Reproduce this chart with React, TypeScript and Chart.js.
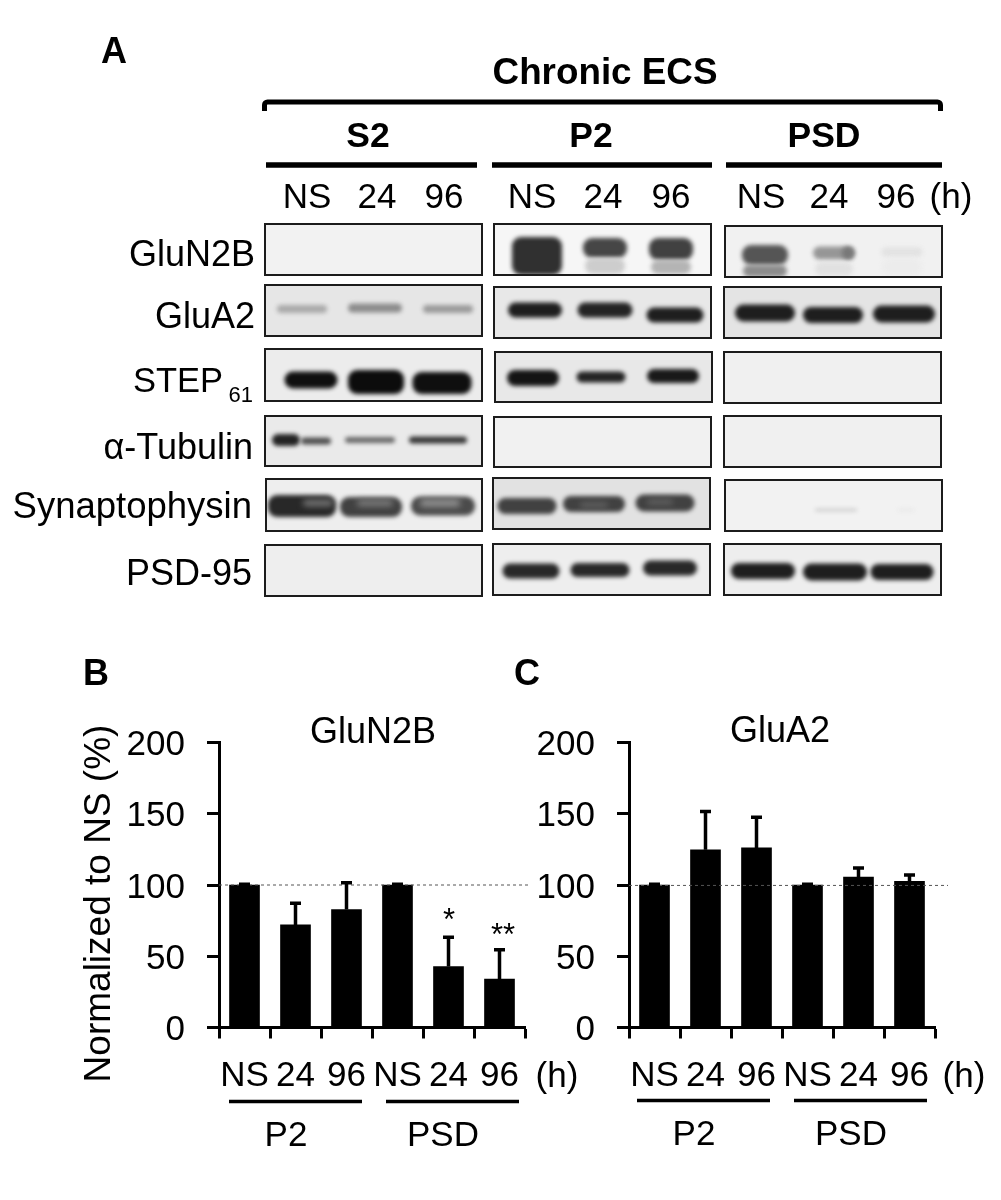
import React, { useEffect, useRef } from "react";
import { Chart, registerables } from "chart.js";

Chart.register(...registerables);

const FONT = '"Liberation Sans", Arial, sans-serif';

// ---- bar data ----
const timeLabels = ["NS", "24", "96", "NS", "24", "96"];
const gluN2BValues = [100, 72, 82.8, 100, 42.8, 34];
const gluN2BErrorTops = [100.5, 87.2, 101.5, 100.5, 63.4, 54.6];
const gluA2Values = [100, 124.7, 126, 100, 105.5, 102.6];
const gluA2ErrorTops = [100.6, 151.5, 147.6, 100.6, 112, 107];
const yTicks = [0, 50, 100, 150, 200];

// ---- blot panels: [x0, y0, x1, y1, background grey] in gel-sheet units ----
const blotPanels = [
  [265, 224, 482, 275, 242], [494, 224, 711, 275, 246], [725, 226, 942, 277, 241],
  [265, 285, 482, 336, 230], [494, 287, 711, 338, 232], [724, 287, 941, 338, 228],
  [265, 349, 482, 401, 236], [495, 352, 712, 402, 232], [724, 352, 941, 403, 240],
  [265, 416, 482, 466, 234], [494, 417, 711, 467, 241], [724, 416, 941, 467, 240],
  [266, 479, 482, 531, 238], [493, 478, 710, 529, 226], [725, 480, 942, 531, 242],
  [265, 545, 482, 596, 238], [493, 544, 710, 595, 238], [724, 544, 941, 595, 238],
];

// ---- blot bands: [centre x, centre y, width, height, grey] ----
const gluN2BBands = [
  [537, 256, 50, 38, 48], [605, 248, 44, 20, 70], [605, 266, 40, 16, 205], [671, 249, 44, 22, 65], [671, 267, 40, 14, 180],
  [765, 255, 46, 20, 85], [765, 271, 44, 12, 140], [834, 253, 42, 13, 150], [848, 253, 12, 13, 120], [834, 269, 38, 14, 225],
  [902, 252, 41, 9, 226], [902, 267, 40, 18, 236],
];
const gluA2Bands = [
  [302, 309, 50, 8, 170], [375, 308, 54, 9, 140], [448, 309, 50, 8, 155],
  [535, 310, 54, 15, 30], [605, 310, 55, 15, 35], [675, 315, 57, 15, 30],
  [765, 313, 60, 17, 30], [833, 315, 60, 16, 30], [904, 314, 62, 17, 30],
];
const step61Bands = [
  [311, 380, 53, 17, 15], [376, 382, 56, 24, 12], [442, 383, 59, 22, 15],
  [533, 378, 52, 16, 20], [601, 377, 49, 11, 35], [673, 376, 52, 14, 25],
];
const tubulinBands = [
  [286, 440, 28, 12, 35], [316, 441, 30, 7, 80], [370, 440, 50, 6, 105], [438, 440, 58, 7, 55],
];
const synaptophysinBands = [
  [302, 506, 68, 22, 40], [371, 507, 62, 20, 65], [443, 506, 64, 19, 75],
  [527, 506, 59, 16, 65], [594, 504, 62, 16, 65], [665, 503, 59, 17, 65],
  [836, 510, 42, 2, 190], [906, 510, 16, 1, 215],
];
const synaptophysinCores = [
  [318, 503, 30, 6, 125], [375, 503, 36, 6, 130], [440, 503, 40, 7, 150],
  [594, 505, 28, 4, 110], [660, 502, 26, 4, 110],
];
const psd95Bands = [
  [531, 571, 57, 15, 40], [600, 570, 59, 14, 40], [670, 568, 54, 15, 40],
  [763, 571, 64, 16, 30], [835, 572, 64, 17, 30], [902, 572, 63, 16, 30],
];
const allBands = [
  ...gluN2BBands, ...gluA2Bands, ...step61Bands, ...tubulinBands,
  ...synaptophysinBands, ...psd95Bands,
];

// ---- text: [text, x, baseline y, size, bold, align] ----
const figureTexts: [string, number, number, number, boolean, CanvasTextAlign][] = [
  ["A", 114, 62.5, 36, true, "center"],
  ["B", 96, 685, 36, true, "center"],
  ["C", 527, 685, 36, true, "center"],
  ["Chronic ECS", 605, 83.5, 36.8, true, "center"],
  ["S2", 368, 147, 35.5, true, "center"],
  ["P2", 591, 147, 35.5, true, "center"],
  ["PSD", 824, 147, 35.5, true, "center"],
  ["NS", 307, 208, 35, false, "center"], ["24", 377, 208, 35, false, "center"], ["96", 444, 208, 35, false, "center"],
  ["NS", 532, 208, 35, false, "center"], ["24", 603, 208, 35, false, "center"], ["96", 671, 208, 35, false, "center"],
  ["NS", 761, 208, 35, false, "center"], ["24", 829, 208, 35, false, "center"], ["96", 896, 208, 35, false, "center"],
  ["(h)", 951, 208, 35, false, "center"],
  ["GluN2B", 255, 266, 36, false, "right"],
  ["GluA2", 255, 328, 36, false, "right"],
  ["STEP", 223, 392, 34.5, false, "right"],
  ["61", 253, 402, 22, false, "right"],
  ["α-Tubulin", 253, 459, 36, false, "right"],
  ["Synaptophysin", 252, 518, 36.5, false, "right"],
  ["PSD-95", 252, 585, 36, false, "right"],
  ["GluN2B", 373, 743, 36, false, "center"],
  ["GluA2", 780, 742, 36, false, "center"],
  ["(h)", 557, 1087, 35, false, "center"],
  ["(h)", 964, 1087, 35, false, "center"],
  ["P2", 286, 1146, 35, false, "center"],
  ["PSD", 443, 1146, 35, false, "center"],
  ["P2", 694, 1145, 35, false, "center"],
  ["PSD", 851, 1145, 35, false, "center"],
  ["*", 449, 930, 31, false, "center"],
  ["**", 503, 945, 31, false, "center"],
];
const yAxisTitle = "Normalized to NS (%)";

// ---- rules: [x0, x1, y, width] ----
const rules = [
  [266, 477, 165, 5.5], [492, 712, 165, 5.5], [726, 942, 165, 5.5],
  [229, 362, 1101.5, 3.5], [386, 519, 1101.5, 3.5],
  [637, 770, 1100.5, 3.5], [794, 927, 1100.5, 3.5],
];
const bracket = { x0: 264.5, x1: 940.5, y: 102, drop: 9 };

function drawBands(ctx: any, X: (v: number) => number, Y: (v: number) => number, data: any[]) {
  for (const b of data) {
    const w = X(b.x + b.w / 2) - X(b.x - b.w / 2);
    const h = Y(b.y + b.h / 2) - Y(b.y - b.h / 2);
    ctx.fillStyle = `rgb(${b.g},${b.g},${b.g})`;
    ctx.beginPath();
    ctx.roundRect(X(b.x) - w / 2, Y(b.y) - h / 2, w, h, Math.min(h / 2, 9));
    ctx.fill();
  }
}

const figurePlugin = {
  id: "figure",
  afterDraw(chart: any) {
    const { ctx, scales } = chart;
    const X = (v: number) => scales.x.getPixelForValue(v);
    const Y = (v: number) => scales.y.getPixelForValue(v);
    ctx.save();
    for (const [x0, y0, x1, y1, g] of blotPanels) {
      ctx.fillStyle = `rgb(${g},${g},${g})`;
      ctx.fillRect(X(x0), Y(y0), X(x1) - X(x0), Y(y1) - Y(y0));
    }
    ctx.save();
    ctx.beginPath();
    for (const [x0, y0, x1, y1] of blotPanels) ctx.rect(X(x0), Y(y0), X(x1) - X(x0), Y(y1) - Y(y0));
    ctx.clip();
    ctx.filter = "blur(2.2px)";
    drawBands(ctx, X, Y, chart.data.datasets[0].data);
    ctx.filter = "blur(3px)";
    drawBands(ctx, X, Y, chart.data.datasets[1].data);
    ctx.restore();
    ctx.strokeStyle = "#1c1c1c";
    ctx.lineWidth = 2;
    for (const [x0, y0, x1, y1] of blotPanels) ctx.strokeRect(X(x0), Y(y0), X(x1) - X(x0), Y(y1) - Y(y0));

    ctx.strokeStyle = "#000";
    for (const [x0, x1, y, w] of rules) {
      ctx.lineWidth = w;
      ctx.beginPath();
      ctx.moveTo(X(x0), Y(y));
      ctx.lineTo(X(x1), Y(y));
      ctx.stroke();
    }
    ctx.lineWidth = 5;
    ctx.lineJoin = "round";
    ctx.beginPath();
    ctx.moveTo(X(bracket.x0), Y(bracket.y + bracket.drop));
    ctx.arcTo(X(bracket.x0), Y(bracket.y), X(bracket.x0 + 4), Y(bracket.y), 3);
    ctx.arcTo(X(bracket.x1), Y(bracket.y), X(bracket.x1), Y(bracket.y + 4), 3);
    ctx.lineTo(X(bracket.x1), Y(bracket.y + bracket.drop));
    ctx.stroke();

    ctx.fillStyle = "#000";
    ctx.textBaseline = "alphabetic";
    for (const [t, x, y, s, bold, align] of figureTexts) {
      ctx.font = `${bold ? "bold " : ""}${s}px ${FONT}`;
      ctx.textAlign = align;
      ctx.fillText(t, X(x), Y(y));
    }
    ctx.translate(X(110), Y(903.5));
    ctx.rotate(-Math.PI / 2);
    ctx.font = `37px ${FONT}`;
    ctx.textAlign = "center";
    ctx.fillText(yAxisTitle, 0, 0);
    ctx.restore();
  },
};

const errorBarPlugin = {
  id: "errorBars",
  afterDatasetsDraw(chart: any, _a: any, opts: any) {
    const { ctx, scales } = chart;
    const ds = chart.data.datasets[0];
    const meta = chart.getDatasetMeta(0);
    ctx.save();
    ctx.strokeStyle = "#555";
    ctx.lineWidth = 1;
    ctx.setLineDash([3, 3]);
    ctx.beginPath();
    const ry = scales.y.getPixelForValue(opts.reference);
    ctx.moveTo(chart.chartArea.left, ry);
    ctx.lineTo(chart.chartArea.right + opts.referenceOverhang, ry);
    ctx.stroke();
    ctx.setLineDash([]);
    ctx.strokeStyle = "#000";
    ctx.lineWidth = 3.5;
    ds.errorTops.forEach((top: number, i: number) => {
      const x = meta.data[i].x;
      const yTop = scales.y.getPixelForValue(top);
      const yVal = scales.y.getPixelForValue(ds.data[i]);
      ctx.beginPath();
      ctx.moveTo(x, yVal);
      ctx.lineTo(x, yTop);
      ctx.moveTo(x - 5.5, yTop);
      ctx.lineTo(x + 5.5, yTop);
      ctx.stroke();
    });
    ctx.restore();
  },
};

function barConfig(values: number[], tops: number[], left: number, right: number, reference: number, overhang: number): any {
  const top = 742.5;
  const bottom = 1027.5;
  const xAxisHeight = 60;
  return {
    type: "bar",
    data: {
      labels: timeLabels,
      datasets: [{ data: values, errorTops: tops, backgroundColor: "#000", borderWidth: 0, barThickness: 30 }],
    },
    plugins: [errorBarPlugin],
    options: {
      animation: false,
      responsive: false,
      layout: { padding: { left: 0, top, right: 1001 - right, bottom: 1200 - bottom - xAxisHeight } },
      plugins: {
        legend: { display: false },
        tooltip: { enabled: false },
        errorBars: { reference, referenceOverhang: overhang },
      },
      scales: {
        x: {
          type: "category",
          offset: true,
          afterFit: (s: any) => { s.height = xAxisHeight; },
          grid: { offset: true, drawOnChartArea: false, drawTicks: true, tickLength: 11, tickWidth: 3, tickColor: "#000" },
          border: { display: true, color: "#000", width: 3 },
          ticks: {
            color: "#000", font: { family: FONT, size: 35 }, padding: 17, maxRotation: 0, minRotation: 0, autoSkip: false,
          },
        },
        y: {
          min: 0,
          max: 200,
          afterFit: (s: any) => { s.width = left; },
          afterBuildTicks: (s: any) => { s.ticks = yTicks.map((value) => ({ value })); },
          grid: { drawOnChartArea: false, drawTicks: true, tickLength: 12, tickWidth: 3, tickColor: "#000" },
          border: { display: true, color: "#000", width: 3 },
          ticks: { color: "#000", font: { family: FONT, size: 35 }, padding: 22, labelOffset: 3 },
        },
      },
    },
  };
}

const sheetStyle: React.CSSProperties = {
  position: "absolute", left: 0, top: 0, width: 1001, height: 1200, display: "block", filter: "blur(0.4px)",
};

export default function App() {
  const a = useRef<HTMLCanvasElement>(null);
  const b = useRef<HTMLCanvasElement>(null);
  const c = useRef<HTMLCanvasElement>(null);
  useEffect(() => {
    const toPoints = (rows: number[][]) => rows.map(([x, y, w, h, g]) => ({ x, y, w, h, g })) as any;
    const charts = [
      new Chart(a.current!, {
        type: "scatter",
        data: {
          datasets: [
            { data: toPoints(allBands), pointRadius: 0 },
            { data: toPoints(synaptophysinCores), pointRadius: 0 },
          ],
        },
        plugins: [figurePlugin],
        options: {
          animation: false,
          responsive: false,
          layout: { padding: 0 },
          plugins: { legend: { display: false }, tooltip: { enabled: false } },
          scales: {
            x: { type: "linear", min: 0, max: 1001, display: false },
            y: { type: "linear", min: 0, max: 1200, reverse: true, display: false },
          },
        },
      } as any),
      new Chart(b.current!, barConfig(gluN2BValues, gluN2BErrorTops, 219, 525, 100, 5)),
      new Chart(c.current!, barConfig(gluA2Values, gluA2ErrorTops, 629, 935, 99.7, 13)),
    ];
    return () => charts.forEach((x) => x.destroy());
  }, []);
  return (
    <div style={{ position: "absolute", left: 0, top: 0, width: 1001, height: 1200, background: "#fff", overflow: "hidden" }}>
      <canvas ref={a} width={1001} height={1200} style={sheetStyle} />
      <canvas ref={b} width={1001} height={1200} style={sheetStyle} />
      <canvas ref={c} width={1001} height={1200} style={sheetStyle} />
    </div>
  );
}
